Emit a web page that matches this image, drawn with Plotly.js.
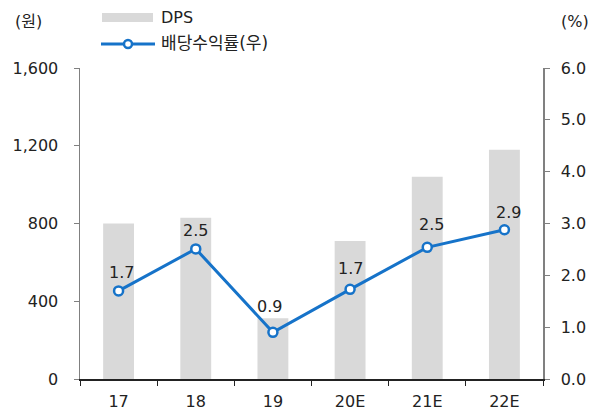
<!DOCTYPE html>
<html>
<head>
<meta charset="utf-8">
<script src="https://cdn.plot.ly/plotly-3.0.1.min.js"></script>
<style>html,body{margin:0;padding:0;background:#fff;}#chart{width:601px;height:412px;}</style>
</head>
<body>
<div id="chart"></div>
<script>
const categories = ['17', '18', '19', '20E', '21E', '22E'];
const dps = [800, 830, 313, 710, 1040, 1180];
const yieldPct = [1.70, 2.51, 0.90, 1.73, 2.54, 2.88];
const leftTicks = [0, 400, 800, 1200, 1600];
const leftTickText = ['0', '400', '800', '1,200', '1,600'];
const rightTicks = [0, 1, 2, 3, 4, 5, 6];
const rightTickText = ['0.0', '1.0', '2.0', '3.0', '4.0', '5.0', '6.0'];

const FONT = '"DejaVu Sans", "Noto Sans CJK KR", sans-serif';
const BLUE = '#1673c9';
const GREY = '#d9d9d9';
const TXT = '#222';

// label offsets (style only)
const labelYShift = [18, 18, 26, 21, 23, 17];
const labelXShift = [3, 0, -3, 0, 4, 4];

const traces = [
  {
    type: 'bar', x: categories, y: dps, name: 'DPS',
    marker: {color: GREY}, width: 0.4, yaxis: 'y', hoverinfo: 'skip'
  },
  {
    type: 'scatter', mode: 'lines+markers', x: categories, y: yieldPct,
    name: '배당수익률(우)', yaxis: 'y2',
    line: {color: BLUE, width: 3},
    marker: {size: 9, color: '#ffffff', line: {color: BLUE, width: 2.5}},
    cliponaxis: false
  }
];

const px2x = p => (p - 80) / 463;
const px2y = p => (379.3 - p) / 311.3;

// category axis: annotation x given as category index
const dataLabels = categories.map((c, i) => ({
  xref: 'x', yref: 'y2', x: i, y: yieldPct[i], text: yieldPct[i].toFixed(1),
  showarrow: false, xanchor: 'center', yanchor: 'middle',
  yshift: labelYShift[i], xshift: labelXShift[i],
  font: {family: FONT, size: 16, color: TXT}
}));

const layout = {
  width: 601, height: 412,
  margin: {l: 80, r: 58, t: 68, b: 33, pad: 0},
  paper_bgcolor: '#fff', plot_bgcolor: '#fff',
  font: {family: FONT, size: 16, color: TXT},
  showlegend: false,
  xaxis: {
    type: 'category', categoryorder: 'array', categoryarray: categories,
    showgrid: false, zeroline: false,
    showline: true, linecolor: TXT, linewidth: 1.5,
    ticks: 'outside', tickson: 'boundaries', ticklen: 5, tickcolor: TXT,
    ticklabelstandoff: 7, tickangle: 0, tickfont: {family: FONT, size: 16, color: TXT}
  },
  yaxis: {
    range: [0, 1600], tickvals: leftTicks, ticktext: leftTickText,
    showgrid: false, zeroline: false, showline: true, linecolor: '#808080', linewidth: 1.5,
    ticks: 'outside', ticklen: 5, tickcolor: '#808080', ticklabelstandoff: 12,
    tickfont: {family: FONT, size: 16, color: TXT}
  },
  yaxis2: {
    range: [0, 6], tickvals: rightTicks, ticktext: rightTickText,
    overlaying: 'y', side: 'right',
    showgrid: false, zeroline: false, showline: true, linecolor: '#808080', linewidth: 1.5,
    ticks: 'outside', ticklen: 5, tickcolor: '#808080', ticklabelstandoff: 8,
    tickfont: {family: FONT, size: 16, color: TXT}
  },
  shapes: [
    {type: 'rect', xref: 'paper', yref: 'paper', x0: px2x(102), x1: px2x(153), y0: px2y(22), y1: px2y(13),
     fillcolor: GREY, line: {width: 0}},
    {type: 'line', xref: 'paper', yref: 'paper', x0: px2x(101), x1: px2x(155), y0: px2y(44), y1: px2y(44),
     line: {color: BLUE, width: 3}},
    {type: 'circle', xref: 'paper', yref: 'paper', x0: px2x(124), x1: px2x(132), y0: px2y(48), y1: px2y(40),
     fillcolor: '#fff', line: {color: BLUE, width: 2.5}}
  ],
  annotations: dataLabels.concat([
    {xref: 'paper', yref: 'paper', x: px2x(159), y: px2y(17), xanchor: 'left', yanchor: 'middle',
     text: 'DPS', showarrow: false, font: {family: FONT, size: 16, color: TXT}},
    {xref: 'paper', yref: 'paper', x: px2x(159), y: px2y(43), xanchor: 'left', yanchor: 'middle',
     text: '배당수익률(우)', showarrow: false, font: {family: FONT, size: 17, color: TXT}},
    {xref: 'paper', yref: 'paper', x: px2x(28), y: px2y(21), xanchor: 'center', yanchor: 'middle',
     text: '(원)', showarrow: false, font: {family: FONT, size: 16, color: TXT}},
    {xref: 'paper', yref: 'paper', x: px2x(575), y: px2y(21), xanchor: 'center', yanchor: 'middle',
     text: '(%)', showarrow: false, font: {family: FONT, size: 16, color: TXT}}
  ])
};

Plotly.newPlot('chart', traces, layout, {displayModeBar: false, staticPlot: true});
</script>
</body>
</html>
